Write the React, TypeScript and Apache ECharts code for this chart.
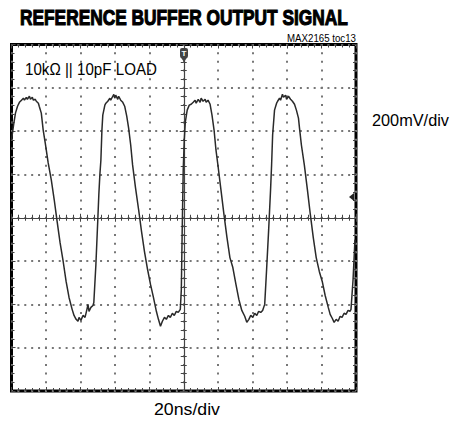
import React, { useEffect, useRef } from "react";
import * as echarts from "echarts";

// Axis ranges (time in ns relative to screen centre, voltage in mV)
const X_MIN = -100;
const X_MAX = 100;
const X_STEP = 20; // 20ns/div
const Y_MIN = -800;
const Y_MAX = 800;
const Y_STEP = 200; // 200mV/div

const TITLE = "REFERENCE BUFFER OUTPUT SIGNAL";
const TOC = "MAX2165 toc13";
const LOAD_LABEL = "10kΩ || 10pF LOAD";
const Y_SCALE_LABEL = "200mV/div";
const X_SCALE_LABEL = "20ns/div";

// Trace samples [ns, mV], one array per cycle
const CYCLE_1: [number, number][] = [
  [-100.0, 359], [-98.8, 428], [-97.7, 483], [-96.5, 515], [-95.4, 533], [-94.2, 543],
  [-93.1, 552], [-92.5, 543], [-91.4, 556], [-90.8, 547], [-89.6, 561], [-89.0, 547],
  [-87.9, 556], [-87.3, 543], [-86.2, 547], [-85.6, 538], [-84.4, 529], [-83.9, 515],
  [-82.7, 483], [-81.6, 405], [-80.4, 345], [-78.7, 253], [-76.9, 175], [-75.2, 83],
  [-73.5, -18], [-71.8, -115], [-70.0, -202], [-68.3, -294], [-66.6, -368], [-64.8, -423],
  [-63.7, -451], [-62.5, -469], [-61.4, -478], [-60.8, -460], [-59.7, -474], [-58.5, -451],
  [-57.3, -460], [-56.2, -423], [-55.6, -400], [-55.0, -432], [-53.9, -414], [-52.7, -405],
  [-52.2, -391], [-51.0, -216], [-49.9, -9], [-49.3, 106], [-48.7, 198], [-48.1, 267],
  [-47.5, 405], [-47.0, 474], [-45.8, 520],
];
const CYCLE_2: [number, number][] = [
  [-45.2, 529], [-44.1, 538], [-42.9, 552], [-42.4, 543], [-41.2, 561], [-40.6, 570],
  [-40.1, 552], [-39.5, 566], [-38.3, 547], [-37.8, 561], [-36.6, 543], [-35.4, 533],
  [-34.3, 515], [-33.1, 469], [-32.0, 414], [-30.8, 336], [-29.7, 244], [-28.0, 138],
  [-26.2, 37], [-24.5, -64], [-22.8, -156], [-21.0, -239], [-19.3, -308], [-17.6, -368],
  [-15.9, -432], [-14.7, -469], [-13.5, -501], [-12.4, -478], [-11.2, -460], [-10.1, -469],
  [-8.9, -451], [-7.8, -460], [-6.6, -441], [-5.5, -451], [-4.3, -432], [-3.2, -437],
  [-2.0, -423], [-1.4, -331], [-0.9, -55], [-0.3, 221], [0.3, 359], [0.9, 441],
  [2.0, 497], [3.2, 520],
];
const CYCLE_3: [number, number][] = [
  [4.3, 524], [5.5, 533], [6.6, 543], [7.2, 529], [8.4, 547], [9.5, 533],
  [10.1, 552], [11.2, 538], [12.4, 547], [13.0, 533], [14.1, 543], [15.3, 524],
  [16.4, 474], [17.6, 405], [18.7, 313], [19.9, 239], [21.6, 129], [23.3, 18],
  [25.1, -92], [26.8, -184], [28.5, -230], [30.3, -308], [32.0, -377], [33.7, -428],
  [35.4, -455], [36.6, -483], [37.8, -469], [38.9, -451], [40.1, -460], [41.2, -441],
  [42.4, -451], [43.5, -432], [44.7, -437], [45.8, -428], [47.0, -400], [48.1, -239],
  [49.3, -55], [50.4, 129], [51.0, 244], [51.6, 382], [52.7, 497], [53.9, 529],
];
const CYCLE_4: [number, number][] = [
  [54.5, 538], [55.6, 552], [56.2, 543], [57.3, 570], [57.9, 556], [59.1, 566],
  [59.7, 547], [60.8, 561], [62.0, 547], [63.1, 538], [64.3, 524], [65.4, 497],
  [66.6, 460], [67.2, 414], [68.3, 336], [70.0, 244], [71.8, 129], [73.5, 14],
  [75.2, -92], [76.9, -184], [78.7, -248], [80.4, -294], [82.1, -359], [83.9, -414],
  [85.0, -446], [86.2, -464], [87.3, -483], [88.5, -469], [89.6, -478], [90.8, -455],
  [91.9, -460], [93.1, -441], [94.2, -446], [95.4, -428], [96.5, -432], [97.1, -423],
  [98.3, -285], [99.4, -101],
];

const LABEL_FONT = "'Liberation Sans', Arial, sans-serif";

function fitScale(text: string, font: string, width: number): number {
  const ctx = document.createElement("canvas").getContext("2d");
  if (!ctx) return 1;
  ctx.font = font;
  const w = ctx.measureText(text).width;
  return w > 0 ? width / w : 1;
}

function textEl(
  text: string,
  x: number,
  y: number,
  size: number,
  width: number,
  align: "left" | "right",
  weight: string = "normal",
  extra: any = {}
) {
  const font = `${weight} ${size}px ${LABEL_FONT}`;
  return {
    type: "text",
    x,
    y,
    scaleX: fitScale(text, font, width),
    style: {
      text,
      fontSize: size,
      fontFamily: LABEL_FONT,
      fontWeight: weight,
      fill: "#000",
      align,
      verticalAlign: "middle",
      ...extra,
    },
    z: 100,
  };
}

export default function App() {
  const ref = useRef<HTMLDivElement>(null);

  useEffect(() => {
    if (!ref.current) return;
    const chart = echarts.init(ref.current, undefined, { renderer: "svg" });
    const trace = [...CYCLE_1, ...CYCLE_2, ...CYCLE_3, ...CYCLE_4];

    const tickStyle = { color: "#444", width: 1 };
    const baseX = { type: "value", min: X_MIN, max: X_MAX, interval: X_STEP, axisLabel: { show: false } };
    const baseY = { type: "value", min: Y_MIN, max: Y_MAX, interval: Y_STEP, axisLabel: { show: false } };

    chart.setOption({
      animation: false,
      backgroundColor: "#fff",
      grid: {
        left: 11.5,
        top: 44.5,
        width: 344.5,
        height: 346.5,
        show: true,
        borderColor: "#000",
        borderWidth: 3,
        backgroundColor: "#fff",
      },
      xAxis: [
        {
          ...baseX,
          position: "bottom",
          axisLine: { show: true, onZero: true, onZeroAxisIndex: 0, lineStyle: { color: "#444", width: 1.2 } },
          axisTick: { show: true, inside: false, length: 4, lineStyle: tickStyle },
          minorTick: { show: true, splitNumber: 5, length: 3, lineStyle: tickStyle },
          splitLine: { show: true, lineStyle: { color: "#777", width: 2, type: [2, 6.66], dashOffset: 1 } },
        },
        {
          ...baseX,
          position: "top",
          axisLine: { show: false, onZero: true, onZeroAxisIndex: 1 },
          axisTick: { show: true, inside: false, length: 4, lineStyle: tickStyle },
          minorTick: { show: true, splitNumber: 5, length: 3, lineStyle: tickStyle },
          splitLine: { show: false },
        },
        {
          ...baseX,
          position: "top",
          axisLine: { show: false, onZero: false },
          axisTick: { show: true, inside: true, length: 4, lineStyle: tickStyle },
          minorTick: { show: true, splitNumber: 5, length: 3, lineStyle: tickStyle },
          splitLine: { show: false },
        },
        {
          ...baseX,
          position: "bottom",
          axisLine: { show: false, onZero: false },
          axisTick: { show: true, inside: true, length: 4, lineStyle: tickStyle },
          minorTick: { show: true, splitNumber: 5, length: 3, lineStyle: tickStyle },
          splitLine: { show: false },
        },
      ],
      yAxis: [
        {
          ...baseY,
          position: "left",
          axisLine: { show: true, onZero: true, onZeroAxisIndex: 0, lineStyle: { color: "#444", width: 1.2 } },
          axisTick: { show: true, inside: false, length: 4, lineStyle: tickStyle },
          minorTick: { show: true, splitNumber: 5, length: 3, lineStyle: tickStyle },
          splitLine: { show: true, lineStyle: { color: "#777", width: 2, type: [2, 4.89], dashOffset: 1 } },
        },
        {
          ...baseY,
          position: "right",
          axisLine: { show: false, onZero: true, onZeroAxisIndex: 0 },
          axisTick: { show: true, inside: false, length: 4, lineStyle: tickStyle },
          minorTick: { show: true, splitNumber: 5, length: 3, lineStyle: tickStyle },
          splitLine: { show: false },
        },
        {
          ...baseY,
          position: "left",
          axisLine: { show: false, onZero: false },
          axisTick: { show: true, inside: true, length: 4, lineStyle: tickStyle },
          minorTick: { show: true, splitNumber: 5, length: 3, lineStyle: tickStyle },
          splitLine: { show: false },
        },
        {
          ...baseY,
          position: "right",
          axisLine: { show: false, onZero: false },
          axisTick: { show: true, inside: true, length: 4, lineStyle: tickStyle },
          minorTick: { show: true, splitNumber: 5, length: 3, lineStyle: tickStyle },
          splitLine: { show: false },
        },
      ],
      series: [
        {
          type: "line",
          xAxisIndex: 0,
          yAxisIndex: 0,
          data: trace,
          showSymbol: false,
          symbol: "none",
          lineStyle: { color: "#2a2a2a", width: 1.5 },
          z: 10,
        },
      ],
      graphic: [
        textEl(TITLE, 20, 17.5, 22, 328, "left", "bold", { stroke: "#000", lineWidth: 1.1 }),
        textEl(TOC, 356, 38, 10, 69, "right"),
        textEl(LOAD_LABEL, 25, 68.5, 17, 132, "left"),
        textEl(Y_SCALE_LABEL, 372, 120, 16, 77, "left"),
        textEl(X_SCALE_LABEL, 154, 410, 16.5, 66, "left"),
        // trigger marker at top centre
        { type: "rect", shape: { x: 180, y: 48, width: 8, height: 10, r: 2 }, style: { fill: "#444" }, z: 50 },
        { type: "polygon", shape: { points: [[180.5, 57], [187.5, 57], [184, 62]] }, style: { fill: "#444" }, z: 50 },
        {
          type: "text",
          x: 184,
          y: 53.5,
          style: { text: "T", fontSize: 8, fontWeight: "bold", fontFamily: LABEL_FONT, fill: "#fff", align: "center", verticalAlign: "middle" },
          z: 51,
        },
        // level marker on right edge
        { type: "polygon", shape: { points: [[349, 197], [354, 193], [354, 201]] }, style: { fill: "#222" }, z: 50 },
      ],
    });
    return () => chart.dispose();
  }, []);

  return (
    <div
      ref={ref}
      style={{ position: "absolute", left: 0, top: 0, width: 453, height: 426, background: "#fff" }}
    />
  );
}
